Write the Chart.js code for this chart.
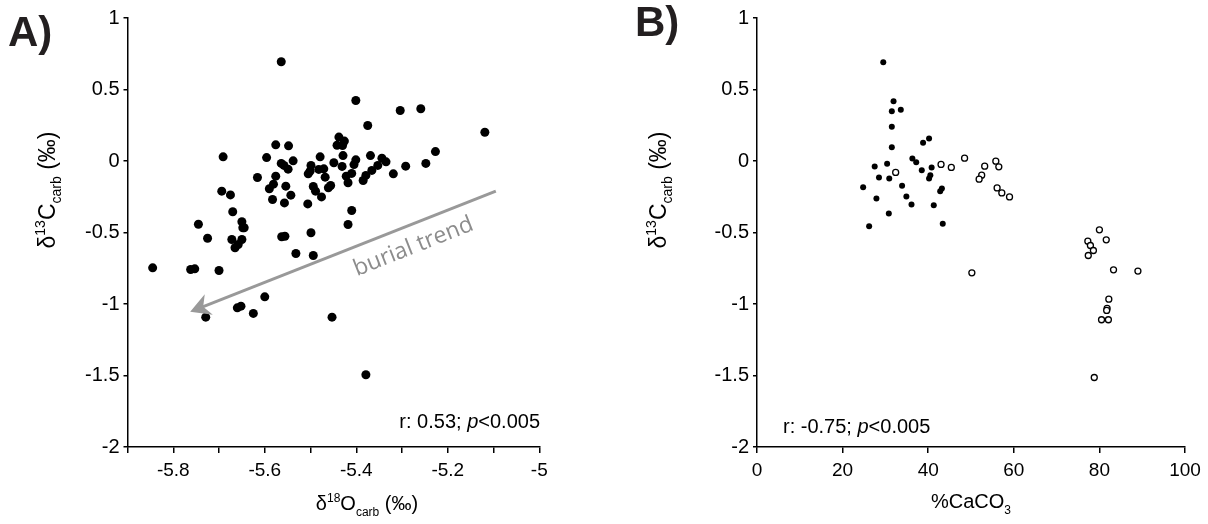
<!DOCTYPE html>
<html>
<head>
<meta charset="utf-8">
<script src="https://cdn.jsdelivr.net/npm/chart.js@4.4.0/dist/chart.umd.min.js"></script>
<style>
  html, body { margin: 0; padding: 0; background: #fff; }
  #wrap { position: relative; width: 1208px; height: 524px; }
  canvas { position: absolute; top: 0; }
</style>
</head>
<body>
<div id="wrap">
  <canvas id="chartA" width="604" height="524" style="left:0"></canvas>
  <canvas id="chartB" width="604" height="524" style="left:604px"></canvas>
</div>
<script>
// panel A: d18O vs d13C
var oxygenA = [-5.564, -5.576, -5.548, -5.691, -5.596, -5.438, -5.426, -5.442, -5.430, -5.479,
  -5.538, -5.429, -5.449, -5.431, -5.564, -5.558, -5.549, -5.499, -5.505, -5.501,
  -5.482, -5.471, -5.468, -5.616, -5.576, -5.581, -5.590, -5.554, -5.494, -5.456,
  -5.461, -5.422, -5.418, -5.489, -5.694, -5.675, -5.543, -5.583, -5.557, -5.506,
  -5.476, -5.410, -5.670, -5.745, -5.650, -5.648, -5.645, -5.725, -5.672, -5.665,
  -5.650, -5.658, -5.563, -5.556, -5.499, -5.532, -5.494, -5.418, -5.845, -5.762,
  -5.753, -5.700, -5.600, -5.660, -5.652, -5.625, -5.729, -5.453, -5.401, -5.304,
  -5.259, -5.375, -5.119, -5.227, -5.369, -5.401, -5.405, -5.344, -5.335, -5.353,
  -5.366, -5.248, -5.292, -5.319, -5.410, -5.379, -5.385, -5.379];
var carbonA = [0.694, 0.113, 0.106, 0.029, 0.024, 0.167, 0.139, 0.110, 0.108, 0.029,
  0.001, 0.038, -0.012, -0.038, -0.017, -0.031, -0.057, -0.031, -0.090, -0.071,
  -0.059, -0.055, -0.113, -0.115, -0.106, -0.162, -0.194, -0.176, -0.178, -0.171,
  -0.187, -0.106, -0.152, -0.211, -0.211, -0.237, -0.239, -0.269, -0.293, -0.300,
  -0.251, -0.346, -0.355, -0.442, -0.425, -0.467, -0.467, -0.540, -0.549, -0.607,
  -0.549, -0.584, -0.530, -0.526, -0.502, -0.647, -0.661, -0.444, -0.747, -0.759,
  -0.754, -0.766, -0.950, -1.027, -1.015, -1.066, -1.092, -1.092, 0.423, 0.353,
  0.365, 0.248, 0.201, 0.066, 0.038, 0.008, -0.025, 0.020, -0.006, -0.031,
  -0.066, -0.017, -0.036, -0.090, -0.087, -0.101, -0.136, -1.495];

// panel B: %CaCO3 vs d13C, filled and open symbols
var caco3Filled = [29.5, 31.9, 31.5, 33.6, 31.5, 31.5, 38.8, 40.2, 36.3, 37.2,
  27.5, 30.4, 40.8, 38.5, 40.5, 40.2, 28.5, 30.9, 24.8, 33.9,
  27.9, 34.9, 36.1, 43.2, 42.8, 41.3, 30.8, 26.2, 43.4];
var carbonBFilled = [0.691, 0.418, 0.348, 0.358, 0.239, 0.097, 0.127, 0.157, 0.017, -0.008,
  -0.038, -0.020, -0.045, -0.064, -0.099, -0.122, -0.115, -0.122, -0.183, -0.173,
  -0.262, -0.248, -0.304, -0.192, -0.211, -0.309, -0.367, -0.456, -0.439];
var caco3Open = [32.4, 43.0, 45.4, 48.5, 53.2, 55.8, 56.5, 52.5, 51.9, 56.1,
  57.2, 59.0, 50.2, 80.0, 77.3, 77.9, 78.6, 77.4, 81.6, 83.3,
  89.0, 82.2, 81.8, 81.7, 80.5, 82.1, 78.8];
var carbonBOpen = [-0.080, -0.024, -0.045, 0.020, -0.036, -0.001, -0.041, -0.099, -0.127, -0.188,
  -0.223, -0.251, -0.782, -0.481, -0.561, -0.591, -0.626, -0.661, -0.551, -0.761,
  -0.770, -0.966, -1.031, -1.045, -1.110, -1.110, -1.514];

// burial trend arrow, in data units of panel A
var arrowFrom = [-5.095, -0.211];
var arrowTo = [-5.763, -1.055];
var arrowLabelAt = [-5.275, -0.60];

var statsA = ['r: 0.53; ', 'p', '<0.005'];
var statsB = ['r: -0.75; ', 'p', '<0.005'];

var FONT = '"Liberation Sans", Arial, sans-serif';

function pts(xs, ys) {
  return xs.map(function (x, i) { return { x: x, y: ys[i] }; });
}

function fmt(v) {
  return String(Math.round(v * 10) / 10);
}

// draw text made of pieces with superscripts/subscripts
function drawRich(ctx, parts, x, y, size, align) {
  var small = Math.round(size * 0.6);
  var w = 0;
  parts.forEach(function (p) {
    var s = p.sup || p.sub ? small : size;
    ctx.font = (p.italic ? 'italic ' : '') + s + 'px ' + FONT;
    p.w = ctx.measureText(p.t).width;
    w += p.w;
  });
  var cx = align === 'center' ? x - w / 2 : align === 'right' ? x - w : x;
  ctx.textAlign = 'left';
  ctx.textBaseline = 'alphabetic';
  parts.forEach(function (p) {
    var s = p.sup || p.sub ? small : size;
    var dy = p.sup ? -size * 0.42 : p.sub ? size * 0.28 : 0;
    ctx.font = (p.italic ? 'italic ' : '') + s + 'px ' + FONT;
    ctx.fillText(p.t, cx, y + dy);
    cx += p.w;
  });
}

function yTitle(ctx, x, y) {
  ctx.save();
  ctx.translate(x, y);
  ctx.rotate(-Math.PI / 2);
  ctx.fillStyle = '#000';
  drawRich(ctx, [{ t: 'δ' }, { t: '13', sup: true }, { t: 'C' }, { t: 'carb', sub: true }, { t: ' (‰)' }], 0, 0, 23, 'center');
  ctx.restore();
}

var decorA = {
  id: 'decorA',
  afterDatasetsDraw: function (chart) {
    var ctx = chart.ctx, xs = chart.scales.x, ys = chart.scales.y;
    // arrow
    var x1 = xs.getPixelForValue(arrowFrom[0]), y1 = ys.getPixelForValue(arrowFrom[1]);
    var x2 = xs.getPixelForValue(arrowTo[0]), y2 = ys.getPixelForValue(arrowTo[1]);
    var ang = Math.atan2(y2 - y1, x2 - x1);
    var L = 20, W = 11;
    ctx.save();
    ctx.strokeStyle = '#999999';
    ctx.fillStyle = '#999999';
    ctx.lineWidth = 3;
    ctx.beginPath();
    ctx.moveTo(x1, y1);
    ctx.lineTo(x2 - Math.cos(ang) * 10, y2 - Math.sin(ang) * 10);
    ctx.stroke();
    ctx.translate(x2, y2);
    ctx.rotate(ang);
    ctx.beginPath();
    ctx.moveTo(0, 0);
    ctx.lineTo(-L, -W);
    ctx.lineTo(-L * 0.7, 0);
    ctx.lineTo(-L, W);
    ctx.closePath();
    ctx.fill();
    ctx.restore();
    // arrow label
    ctx.save();
    ctx.translate(xs.getPixelForValue(arrowLabelAt[0]), ys.getPixelForValue(arrowLabelAt[1]));
    ctx.rotate(ang + Math.PI);
    ctx.fillStyle = '#8c8c8c';
    ctx.font = '23px "Open Sans", sans-serif';
    ctx.textAlign = 'center';
    ctx.textBaseline = 'middle';
    ctx.fillText('burial trend', 0, 0);
    ctx.restore();
  },
  afterDraw: function (chart) {
    var ctx = chart.ctx;
    ctx.save();
    ctx.fillStyle = '#231f20';
    ctx.font = 'bold 42px ' + FONT;
    ctx.textAlign = 'left';
    ctx.textBaseline = 'alphabetic';
    ctx.fillText('A)', 8, 46);
    ctx.fillStyle = '#000';
    drawRich(ctx, [{ t: 'δ' }, { t: '18', sup: true }, { t: 'O' }, { t: 'carb', sub: true }, { t: ' (‰)' }], 367, 510, 20, 'center');
    drawRich(ctx, [{ t: statsA[0] }, { t: statsA[1], italic: true }, { t: statsA[2] }], 540, 428, 20, 'right');
    ctx.restore();
    yTitle(ctx, 55, 190);
  }
};

var decorB = {
  id: 'decorB',
  afterDraw: function (chart) {
    var ctx = chart.ctx;
    ctx.save();
    ctx.fillStyle = '#231f20';
    ctx.font = 'bold 42px ' + FONT;
    ctx.textAlign = 'left';
    ctx.textBaseline = 'alphabetic';
    ctx.fillText('B)', 31, 36);
    ctx.fillStyle = '#000';
    drawRich(ctx, [{ t: '%CaCO' }, { t: '3', sub: true }], 367, 508, 20, 'center');
    drawRich(ctx, [{ t: statsB[0] }, { t: statsB[1], italic: true }, { t: statsB[2] }], 179, 433, 20, 'left');
    ctx.restore();
    yTitle(ctx, 62, 190);
  }
};

function yAxis(width) {
  return {
    min: -2, max: 1,
    afterFit: function (s) { s.width = width; },
    afterBuildTicks: function (s) {
      s.ticks = [-2, -1.5, -1, -0.5, 0, 0.5, 1].map(function (v) { return { value: v }; });
    },
    border: { display: true, color: '#000', width: 1.5 },
    grid: { drawOnChartArea: false, drawTicks: true, tickLength: 4, color: '#000', lineWidth: 1.5 },
    ticks: { color: '#000', padding: 4, font: { family: FONT, size: 20 }, callback: fmt }
  };
}

function baseOptions(xAxis, yWidth, padRight) {
  return {
    responsive: false,
    animation: false,
    layout: { padding: { left: 0, right: padRight, top: 18, bottom: 0 } },
    plugins: { legend: { display: false }, tooltip: { enabled: false } },
    scales: { x: xAxis, y: yAxis(yWidth) }
  };
}

Chart.defaults.font.family = FONT;

new Chart(document.getElementById('chartA'), {
  type: 'scatter',
  data: {
    datasets: [{
      data: pts(oxygenA, carbonA),
      pointRadius: 4.5,
      pointBackgroundColor: '#000',
      pointBorderColor: '#000',
      pointBorderWidth: 0
    }]
  },
  options: baseOptions({
    type: 'linear', min: -5.9, max: -5,
    afterFit: function (s) { s.height = 77; },
    afterBuildTicks: function (s) {
      var t = [];
      for (var i = -59; i <= -50; i++) t.push({ value: i / 10 });
      s.ticks = t;
    },
    border: { display: true, color: '#000', width: 1.5 },
    grid: { drawOnChartArea: false, drawTicks: true, tickLength: 6, color: '#000', lineWidth: 1.5 },
    ticks: {
      color: '#000', padding: 6, autoSkip: false, maxRotation: 0,
      font: { family: FONT, size: 19 },
      callback: function (v) { return Math.abs(Math.round(v * 10)) % 2 === 0 ? fmt(v) : ''; }
    }
  }, 127.5, 64.7),
  plugins: [decorA]
});

new Chart(document.getElementById('chartB'), {
  type: 'scatter',
  data: {
    datasets: [{
      data: pts(caco3Filled, carbonBFilled),
      pointRadius: 3,
      pointBackgroundColor: '#000',
      pointBorderColor: '#000',
      pointBorderWidth: 0
    }, {
      data: pts(caco3Open, carbonBOpen),
      pointRadius: 3,
      pointBackgroundColor: '#fff',
      pointBorderColor: '#000',
      pointBorderWidth: 1.3
    }]
  },
  options: baseOptions({
    type: 'linear', min: 0, max: 100,
    afterFit: function (s) { s.height = 77; },
    afterBuildTicks: function (s) {
      s.ticks = [0, 20, 40, 60, 80, 100].map(function (v) { return { value: v }; });
    },
    border: { display: true, color: '#000', width: 1.5 },
    grid: { drawOnChartArea: false, drawTicks: true, tickLength: 6, color: '#000', lineWidth: 1.5 },
    ticks: { color: '#000', padding: 6, autoSkip: false, maxRotation: 0, font: { family: FONT, size: 19 } }
  }, 153, 23),
  plugins: [decorB]
});
</script>
</body>
</html>
